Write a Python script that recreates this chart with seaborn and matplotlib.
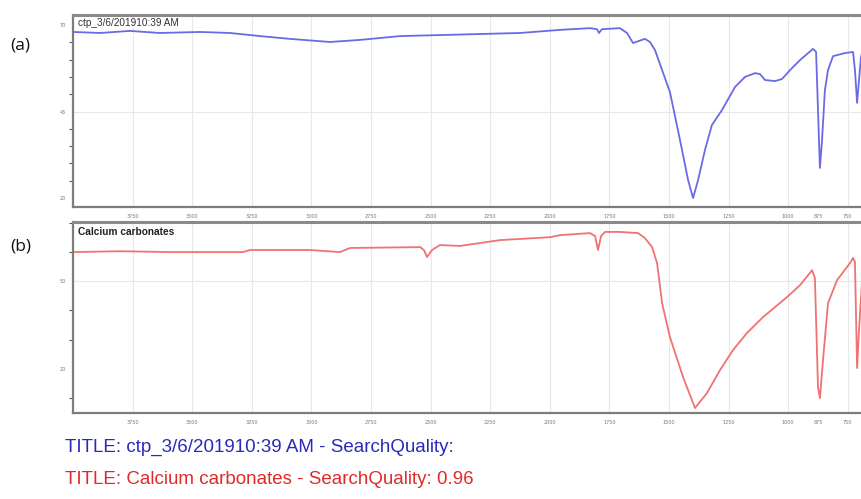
import numpy as np
import pandas as pd
import matplotlib
matplotlib.use("Agg")
import matplotlib.pyplot as plt
from matplotlib.ticker import FixedLocator, MultipleLocator
import seaborn as sns

# ---------------- data ----------------
wn_a = [4000, 3887, 3761, 3635, 3467, 3341, 3215, 3090, 2922, 2796,
        2628, 2461, 2293, 2125, 1957, 1831, 1802, 1794, 1781, 1706,
        1676, 1651, 1626, 1601, 1580, 1559, 1529, 1496, 1454, 1420,
        1399, 1378, 1349, 1320, 1278, 1223, 1181, 1139, 1118, 1097,
        1055, 1026, 992, 950, 896, 883, 875, 867, 858, 846,
        833, 812, 762, 728, 720, 711, 703, 695, 690]
t_a = [68.0, 67.7, 68.3, 67.7, 68.0, 67.7, 66.8, 66.0, 65.1, 65.7,
       66.8, 67.1, 67.4, 67.7, 68.6, 69.1, 68.8, 67.7, 68.8, 69.1,
       67.7, 64.8, 65.4, 66.0, 65.1, 62.8, 57.0, 50.6, 36.8, 25.2,
       20.0, 25.2, 33.9, 41.1, 45.4, 52.1, 55.0, 56.1, 55.8, 54.1,
       53.8, 54.4, 57.0, 59.9, 63.1, 62.2, 45.4, 28.7, 36.8, 51.2,
       57.0, 61.0, 61.9, 62.2, 57.0, 47.5, 54.1, 60.5, 62.2]

wn_b = [4000, 3803, 3593, 3287, 3258, 3006, 2880, 2838, 2544, 2528,
        2515, 2494, 2461, 2377, 2209, 1999, 1957, 1831, 1810, 1798,
        1785, 1768, 1706, 1630, 1601, 1571, 1550, 1529, 1496, 1441,
        1391, 1341, 1286, 1232, 1173, 1106, 1005, 950, 900, 888,
        875, 867, 854, 833, 795, 741, 728, 720, 711, 703, 690]
t_b = [60.0, 60.3, 60.0, 60.0, 60.7, 60.7, 60.0, 61.4, 61.7, 60.7,
       58.3, 60.7, 62.4, 62.1, 64.1, 65.1, 65.8, 66.5, 65.5, 60.7,
       65.5, 66.9, 66.9, 66.5, 64.8, 61.7, 56.2, 42.5, 30.9, 17.2,
       6.6, 11.7, 19.6, 26.4, 32.3, 37.7, 44.6, 48.7, 53.8, 51.1,
       13.8, 10.0, 23.0, 42.5, 50.4, 56.2, 58.0, 56.6, 20.3, 33.3, 50.4]

x_major = [3750, 3500, 3250, 3000, 2750, 2500, 2250, 2000, 1750, 1500, 1250, 1000, 875, 750]
x_labels = ["3750", "3500", "3250", "3000", "2750", "2500", "2250", "2000",
            "1750", "1500", "1250", "1000", "875", "750"]
grid_x = [3750, 3500, 3250, 3000, 2750, 2500, 2250, 2000, 1750, 1500, 1250, 1000, 750]

label_a = "ctp_3/6/201910:39 AM"
label_b = "Calcium carbonates"
title_a = "TITLE: ctp_3/6/201910:39 AM - SearchQuality:"
title_b = "TITLE: Calcium carbonates - SearchQuality: 0.96"

# ---------------- figure ----------------
sns.set_style("white")
W, H = 862, 499
fig = plt.figure(figsize=(W / 100, H / 100), dpi=100)

def ax_rect(l, t, r, b):
    return [l / W, (H - b) / H, (r - l) / W, (b - t) / H]

ax_a = fig.add_axes(ax_rect(73, 15, 870, 207))
ax_b = fig.add_axes(ax_rect(73, 222, 870, 413))

df_a = pd.DataFrame({"wn": wn_a, "T": t_a})
df_b = pd.DataFrame({"wn": wn_b, "T": t_b})

sns.lineplot(data=df_a, x="wn", y="T", ax=ax_a, color="#6a6ae6", lw=1.3,
             sort=False, estimator=None)
sns.lineplot(data=df_b, x="wn", y="T", ax=ax_b, color="#f07272", lw=1.3,
             sort=False, estimator=None)

x_right = 4000 - (870 - 73) * 250 / 59.6
spine_col = "#7d7d7d"
for ax, ylim in ((ax_a, (17.4, 72.9)), (ax_b, (4.9, 70.3))):
    ax.set_xlim(4000, x_right)
    ax.set_ylim(*ylim)
    ax.set_xlabel("")
    ax.set_ylabel("")
    for g in grid_x:
        ax.axvline(g, color="#e8e8e8", lw=0.8, zorder=0)
    for s in ("left", "bottom"):
        ax.spines[s].set_color(spine_col)
        ax.spines[s].set_linewidth(1.6)
    ax.spines["top"].set_color("#8a8a8a")
    ax.spines["top"].set_linewidth(2.2)
    ax.spines["right"].set_visible(False)
    ax.xaxis.set_major_locator(FixedLocator(x_major))
    ax.set_xticklabels(x_labels)
    ax.xaxis.set_minor_locator(MultipleLocator(50))
    ax.tick_params(axis="x", which="major", direction="out", length=4, width=0.8,
                   color="#555555", labelsize=3.5, labelcolor="#777777", pad=1)
    ax.tick_params(axis="x", which="minor", direction="out", length=3, width=0.8,
                   color="#555555")
    ax.tick_params(axis="y", which="major", direction="out", length=4, width=0.8,
                   color="#555555", labelsize=3.5, labelcolor="#777777", pad=1)
    ax.tick_params(axis="y", which="minor", direction="out", length=3, width=0.8,
                   color="#555555", left=True)

# y ticks
ax_a.yaxis.set_major_locator(FixedLocator([20, 45, 70]))
ax_a.yaxis.set_minor_locator(MultipleLocator(5))
ax_a.axhline(45, color="#e8e8e8", lw=0.8, zorder=0)
ax_b.yaxis.set_major_locator(FixedLocator([20, 50]))
ax_b.yaxis.set_minor_locator(MultipleLocator(10))
ax_b.axhline(50, color="#e8e8e8", lw=0.8, zorder=0)

narrow = ["Liberation Sans Narrow", "Liberation Sans", "DejaVu Sans"]
ax_a.text(0.006, 0.985, label_a, transform=ax_a.transAxes, ha="left", va="top",
          fontsize=7.2, family=narrow, color="#333333")
ax_b.text(0.006, 0.975, label_b, transform=ax_b.transAxes, ha="left", va="top",
          fontsize=7.3, family=narrow, color="#222222", fontweight="bold")

fig.text(10 / W, 1 - 45 / H, "(a)", fontsize=12.5, family=["Open Sans", "DejaVu Sans"],
         va="center", ha="left", color="#111111")
fig.text(10 / W, 1 - 246 / H, "(b)", fontsize=12.5, family=["Open Sans", "DejaVu Sans"],
         va="center", ha="left", color="#111111")

fig.text(65 / W, 1 - 447 / H, title_a, fontsize=13.5, family=narrow,
         color="#2a2ab8", va="center", ha="left")
fig.text(65 / W, 1 - 479 / H, title_b, fontsize=13.5, family=narrow,
         color="#e02a2a", va="center", ha="left")

fig.savefig("out.png", dpi=100)
